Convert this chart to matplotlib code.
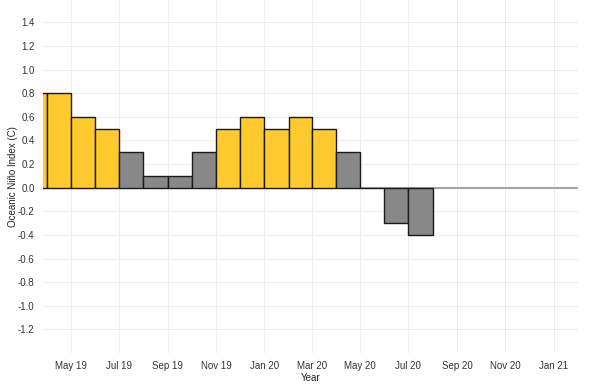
import matplotlib
matplotlib.use("Agg")
import matplotlib.pyplot as plt
import matplotlib.dates as mdates
import numpy as np
import datetime as dt

plt.rcParams['font.family'] = ['Liberation Sans', 'DejaVu Sans']

months = ["2019-03", "2019-04", "2019-05", "2019-06", "2019-07", "2019-08", "2019-09",
          "2019-10", "2019-11", "2019-12", "2020-01", "2020-02", "2020-03", "2020-04",
          "2020-05", "2020-06", "2020-07"]
oni = [0.8, 0.8, 0.6, 0.5, 0.3, 0.1, 0.1, 0.3, 0.5, 0.6, 0.5, 0.6, 0.5, 0.3, 0.0, -0.3, -0.4]
tick_months = ["2019-05", "2019-07", "2019-09", "2019-11", "2020-01", "2020-03",
               "2020-05", "2020-07", "2020-09", "2020-11", "2021-01"]
y_ticks = [-1.2, -1.0, -0.8, -0.6, -0.4, -0.2, 0.0, 0.2, 0.4, 0.6, 0.8, 1.0, 1.2, 1.4]

def month_start(s):
    y, m = map(int, s.split("-"))
    return dt.date(y, m, 1)

def next_month(d):
    return dt.date(d.year + (d.month // 12), d.month % 12 + 1, 1)

starts = [month_start(s) for s in months]
widths = [(next_month(d) - d).days for d in starts]
colors = ["#FFCA2E" if v >= 0.5 else "#888888" for v in oni]

fig = plt.figure(figsize=(5.93, 3.85), dpi=100)
ax = fig.add_axes([43/593, 32/385, (578-43)/593, 353/385])

ax.bar(mdates.date2num(starts), oni, width=widths, align='edge', color=colors,
       edgecolor='#1a1a1a', linewidth=1.0, zorder=3)
ax.axhline(0, color='#a6a6a6', linewidth=1.5, zorder=2)

ax.set_xlim(mdates.date2num(dt.date(2019, 3, 27)), mdates.date2num(dt.date(2021, 2, 1)))
ax.set_ylim(-1.40, 1.59)

ax.set_xticks(mdates.date2num([month_start(s) for s in tick_months]))
ax.xaxis.set_major_formatter(mdates.DateFormatter("%b %y"))
ax.set_yticks(y_ticks)
ax.set_yticklabels([f"{v:.1f}" for v in y_ticks])

ax.grid(True, color='#ededed', linewidth=0.8, zorder=0)
ax.set_axisbelow(True)
for sp in ax.spines.values():
    sp.set_visible(False)
ax.tick_params(length=0, labelsize=7, colors='#333333', pad=6)

ax.set_xlabel("Year", fontsize=7, color='#222222', labelpad=1)
ax.set_ylabel("Oceanic Niño Index (C)", fontsize=7, color='#222222')
ax.yaxis.set_label_coords(-0.047, 0.5)

fig.savefig("out.png", dpi=100)
